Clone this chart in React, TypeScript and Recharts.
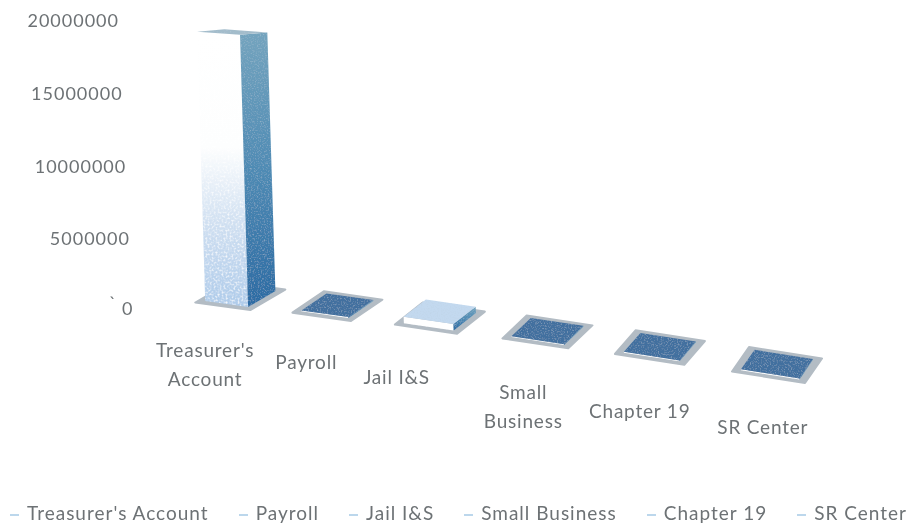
import { BarChart, Bar, XAxis, YAxis, Legend } from 'recharts';

const categories = ["Treasurer's Account", 'Payroll', 'Jail I&S', 'Small Business', 'Chapter 19', 'SR Center'];
const balances = [18700000, 60000, 450000, 60000, 60000, 60000];
const yTicks = [0, 5000000, 10000000, 15000000, 20000000];

const data = categories.map((name, i) => ({ name, balance: balances[i] }));

// perspective of the old 3D chart: bars slide down and spread to the right
const FONT = 'Lato, "Open Sans", sans-serif';
const TEXT = '#6d7275';
const firstCx = 235;
const spanCx = 542;
const topFill = ['#a3bccb', '#426f9f', '#c3d9ef', '#426f9f', '#426f9f', '#426f9f'];
const labelDx = [-35, -31, -43, -24, -20, -14];
const labelDy = [61, 49, 52, 68, 56, 55];

function project(bandCx: number, baseY: number) {
  const t = (bandCx - firstCx) / spanCx;
  const bow = t * (1 - t);
  return {
    t,
    cx: bandCx - 55 * bow + 5 * (1 - t) ** 3,
    cy: baseY - 14 + 69 * t - 23 * bow,
  };
}

const pts = (list: number[][]) => list.map((p) => p.join(',')).join(' ');

function Box3D(props: any) {
  const { x, y, width, height, index } = props;
  const baseY = y + height;
  const { t, cx, cy } = project(x + width / 2, baseY);
  const skew = 10 + 18 * t;
  const depth = 14 + 4 * t;

  const plate = [
    [cx - 45, cy + 6.5],
    [cx + skew, cy + depth],
    [cx + 45, cy - 6.5],
    [cx - skew, cy - depth],
  ];
  const k = index === 0 ? 0.78 : 0.8;
  const foot = plate.map(([px, py]) => [cx + (px - cx) * k, cy + (py - cy) * k]);
  const lean = (height / 270) * 8;
  const rise = [0.99, 1, 0.95, 0.94];
  const top = foot.map(([px, py], i) => [px - lean, py - height * rise[i]]);

  return (
    <g>
      <polygon points={pts(plate)} fill="#b3bcc4" stroke="#b3bcc4" strokeWidth={2} strokeLinejoin="round" />
      <polygon
        points={pts([foot[0], foot[1], top[1], top[0]])}
        fill={index === 0 ? 'url(#frontFade)' : '#ffffff'}
        filter="url(#whiteGrain)"
      />
      <g filter="url(#grain)">
        <polygon points={pts([foot[1], foot[2], top[2], top[1]])} fill="url(#sideFade)" />
        <polygon points={pts(top)} fill={topFill[index]} />
      </g>
    </g>
  );
}

function CategoryTick(props: any) {
  const { x, y, index, payload } = props;
  const { cx, cy } = project(x, y);
  const words: string[] = payload.value === 'Chapter 19' || payload.value === 'SR Center' || payload.value === 'Jail I&S'
    ? [payload.value]
    : payload.value.split(' ');
  const tx = cx + labelDx[index];
  const ty = cy + labelDy[index];
  return (
    <text textAnchor="middle" fontFamily={FONT} fontSize={19} fill={TEXT} letterSpacing={0.8}>
      {words.map((w, i) => (
        <tspan key={w} x={tx} y={ty + 6 + (i - (words.length - 1) / 2) * 29}>
          {w}
        </tspan>
      ))}
    </text>
  );
}

function ValueTick(props: any) {
  const { y, payload } = props;
  const right = 119 + (y - 19) * 0.05;
  const nudge = payload.value === 0 ? -1 : 2;
  return (
    <g fontFamily={FONT} fontSize={18} fill={TEXT} letterSpacing={1}>
      <text x={right} y={y + 6 + nudge} textAnchor="end">
        {payload.value}
      </text>
      {payload.value === 0 && (
        <text x={113} y={y - 1} textAnchor="middle">
          `
        </text>
      )}
    </g>
  );
}

function LegendRow() {
  return (
    <div style={{ display: 'flex', alignItems: 'center', gap: 30, paddingLeft: 10, paddingTop: 61, fontFamily: FONT, fontSize: 19, color: TEXT, letterSpacing: 1, whiteSpace: 'nowrap' }}>
      {categories.map((c) => (
        <span key={c} style={{ display: 'flex', alignItems: 'center', gap: 8 }}>
          <span style={{ width: 9, height: 2, background: '#bcd7ec', display: 'inline-block', marginTop: 5 }} />
          {c}
        </span>
      ))}
    </div>
  );
}

export default function App() {
  return (
    <div style={{ position: 'absolute', left: 0, top: 0, width: 914, height: 529, background: '#fff', filter: 'blur(0.5px)' }}>
      <BarChart width={914} height={529} data={data} margin={{ top: 19, right: 83, bottom: 0, left: 0 }}>
        <defs>
          <linearGradient id="frontFade" x1="0" y1="0" x2="0" y2="1">
            <stop offset="0" stopColor="#ffffff" />
            <stop offset="0.42" stopColor="#fdfefe" />
            <stop offset="0.7" stopColor="#cfdff1" />
            <stop offset="1" stopColor="#aecbea" />
          </linearGradient>
          <linearGradient id="sideFade" x1="0" y1="0" x2="0" y2="1">
            <stop offset="0" stopColor="#74a4be" />
            <stop offset="0.5" stopColor="#4f8bb4" />
            <stop offset="1" stopColor="#2c6ba3" />
          </linearGradient>
          <filter id="grain" x="-5%" y="-5%" width="110%" height="110%">
            <feTurbulence type="fractalNoise" baseFrequency="0.7" numOctaves={2} seed={4} result="noise" />
            <feColorMatrix in="noise" type="matrix" values="0 0 0 0 0.5  0 0 0 0 0.62  0 0 0 0 0.72  0 0 0 1.1 -0.55" result="specks" />
            <feComposite in="specks" in2="SourceAlpha" operator="in" result="clipped" />
            <feMerge>
              <feMergeNode in="SourceGraphic" />
              <feMergeNode in="clipped" />
            </feMerge>
          </filter>
          <filter id="whiteGrain" x="-5%" y="-5%" width="110%" height="110%">
            <feTurbulence type="fractalNoise" baseFrequency="0.5" numOctaves={2} seed={9} result="noise" />
            <feColorMatrix in="noise" type="matrix" values="0 0 0 0 1  0 0 0 0 1  0 0 0 0 1  0 0 0 2 -0.9" result="specks" />
            <feComposite in="specks" in2="SourceAlpha" operator="in" result="clipped" />
            <feMerge>
              <feMergeNode in="SourceGraphic" />
              <feMergeNode in="clipped" />
            </feMerge>
          </filter>
        </defs>
        <XAxis dataKey="name" height={130} axisLine={false} tickLine={false} interval={0} tick={CategoryTick} />
        <YAxis width={181} domain={[0, 20000000]} ticks={yTicks} axisLine={false} tickLine={false} tick={ValueTick} />
        <Legend verticalAlign="bottom" height={89} content={LegendRow} />
        <Bar dataKey="balance" shape={Box3D} isAnimationActive={false} />
      </BarChart>
    </div>
  );
}
